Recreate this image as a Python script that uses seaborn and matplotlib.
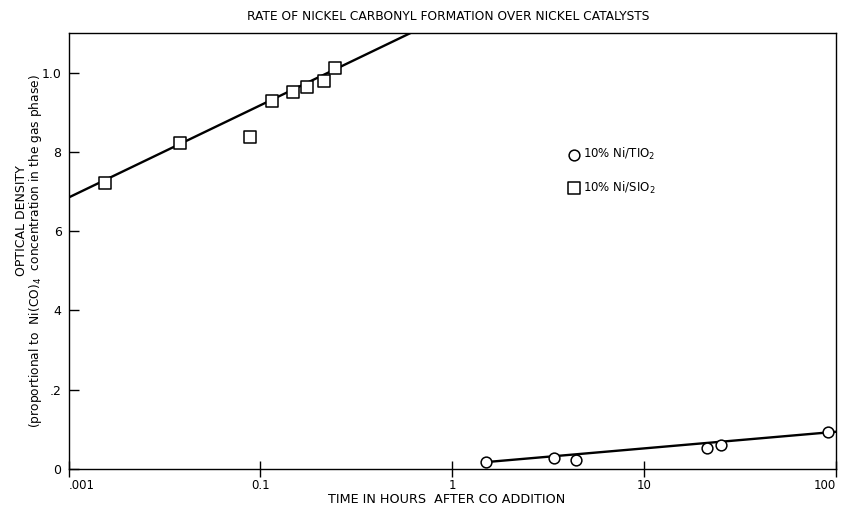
import matplotlib
matplotlib.use("Agg")
import matplotlib.pyplot as plt
import seaborn as sns
import numpy as np
import pandas as pd

# ---- data ----
sio2_x = [0.0155, 0.0379, 0.0885, 0.115, 0.148, 0.175, 0.214, 0.246]
sio2_y = [0.723, 0.822, 0.837, 0.928, 0.952, 0.965, 0.978, 1.011]
tio2_x = [1.50, 3.39, 4.39, 21.2, 25.1, 90.6]
tio2_y = [0.018, 0.027, 0.023, 0.052, 0.060, 0.094]

# fitted lines (y = a + b*log10(x))
sio2_fit = [1.151, 0.233]   # intercept, slope
sio2_fit_range = [0.01, 1.0]
tio2_fit = [0.010, 0.042]
tio2_fit_range = [1.5, 100]

x_ticks = [0.01, 0.1, 1, 10, 100]
x_ticklabels = [".001", "0.1", "1", "10", "100"]
y_ticks = [0, 0.2, 0.4, 0.6, 0.8, 1.0]
y_ticklabels = ["0", ".2", "4", "6", "8", "1.0"]

series_labels = ["10% Ni/TIO$_2$", "10% Ni/SIO$_2$"]

sns.set_theme(style="white")
plt.rcParams['font.family'] = ['DejaVu Sans']
plt.rcParams['text.color'] = 'black'
plt.rcParams['xtick.color'] = 'black'
plt.rcParams['ytick.color'] = 'black'

fig = plt.figure(figsize=(8.42, 5.08), dpi=100)
ax = fig.add_axes([0.0814, 0.0768, 0.9116, 0.858])

def fit_frame(fit, rng):
    xs = np.logspace(np.log10(rng[0]), np.log10(rng[1]), 50)
    return pd.DataFrame({"x": xs, "y": fit[0] + fit[1] * np.log10(xs)})

sns.lineplot(data=fit_frame(sio2_fit, sio2_fit_range), x="x", y="y", ax=ax,
             color="black", linewidth=1.7, zorder=2)
sns.lineplot(data=fit_frame(tio2_fit, tio2_fit_range), x="x", y="y", ax=ax,
             color="black", linewidth=1.7, zorder=2)

df_t = pd.DataFrame({"x": tio2_x, "y": tio2_y})
df_s = pd.DataFrame({"x": sio2_x, "y": sio2_y})
sns.scatterplot(data=df_t, x="x", y="y", ax=ax, marker="o", s=60,
                facecolor="white", edgecolor="black", linewidth=1.1, zorder=3,
                label=series_labels[0])
sns.scatterplot(data=df_s, x="x", y="y", ax=ax, marker="s", s=70,
                facecolor="white", edgecolor="black", linewidth=1.1, zorder=3,
                label=series_labels[1])

ax.set_xscale("log")
ax.set_xlim(0.01, 100)
ax.set_ylim(0, 1.1)
ax.xaxis.set_major_locator(matplotlib.ticker.FixedLocator(x_ticks))
ax.xaxis.set_minor_locator(matplotlib.ticker.NullLocator())
ax.set_xticklabels(x_ticklabels)
ax.set_yticks(y_ticks)
ax.set_yticklabels(y_ticklabels)
ax.tick_params(axis="x", direction="inout", length=12, width=1, labelsize=8.5,
               pad=1, color="black", bottom=True)
ax.tick_params(axis="y", direction="in", length=7, width=1, labelsize=9,
               pad=5, color="black", left=True)
xl = ax.get_xticklabels()
xl[0].set_ha("left")
xl[-1].set_ha("right")

for sp in ax.spines.values():
    sp.set_visible(True)
    sp.set_color("black")
    sp.set_linewidth(1.0)

ax.set_xlabel("")
ax.set_ylabel("")
fig.text(0.531, 0.016, "TIME IN HOURS  AFTER CO ADDITION", ha="center", va="center",
         fontsize=9.2)
fig.text(0.025, 0.565, "OPTICAL DENSITY", rotation=90, ha="center", va="center",
         fontsize=9)
fig.text(0.042, 0.505, "(proportional to  Ni(CO)$_4$  concentration in the gas phase)",
         rotation=90, ha="center", va="center", fontsize=8.8)
fig.text(0.532, 0.967, "RATE OF NICKEL CARBONYL FORMATION OVER NICKEL CATALYSTS",
         ha="center", va="center", fontsize=8.8)

leg = ax.legend(loc="upper left", bbox_to_anchor=(0.668, 0.725), bbox_transform=fig.transFigure,
                frameon=False, fontsize=8.5, handletextpad=0.2, labelspacing=1.5,
                borderpad=0, handlelength=1.0)

fig.savefig("out.png", dpi=100, facecolor="white")
